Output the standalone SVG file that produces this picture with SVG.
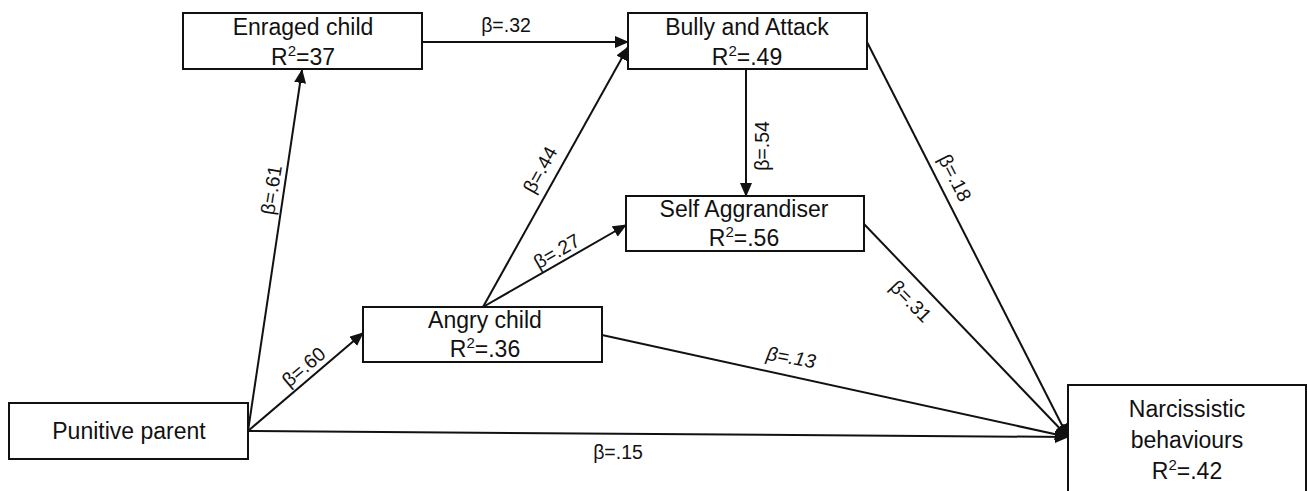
<svg xmlns="http://www.w3.org/2000/svg" width="1307" height="491" viewBox="0 0 1307 491">
<style>
.box{fill:#fff;stroke:#111;stroke-width:2}
.t{font-family:"Liberation Sans",Arial,sans-serif;font-size:23px;fill:#111;text-anchor:middle}
.lbl{font-family:"Liberation Sans",Arial,sans-serif;font-size:19.5px;fill:#111;text-anchor:middle}
.c{stroke:#111;stroke-width:2;fill:none}
.sup{font-size:15px}
</style>
<defs>
<marker id="ah" markerUnits="userSpaceOnUse" markerWidth="14" markerHeight="12" refX="13" refY="6" orient="auto">
<path d="M0,0 L14,6 L0,12 z" fill="#111"/>
</marker>
</defs>
<rect width="1307" height="491" fill="#fff"/>
<g id="connectors">
<line class="c" x1="248" y1="431" x2="302" y2="70" marker-end="url(#ah)"/>
<line class="c" x1="248" y1="431" x2="363" y2="333" marker-end="url(#ah)"/>
<line class="c" x1="248" y1="431" x2="1068" y2="437" marker-end="url(#ah)"/>
<line class="c" x1="422" y1="42" x2="628" y2="42" marker-end="url(#ah)"/>
<line class="c" x1="483" y1="307" x2="628" y2="47" marker-end="url(#ah)"/>
<line class="c" x1="483" y1="307" x2="626" y2="225" marker-end="url(#ah)"/>
<line class="c" x1="746" y1="69" x2="746" y2="196" marker-end="url(#ah)"/>
<line class="c" x1="867" y1="42" x2="1068" y2="437" marker-end="url(#ah)"/>
<line class="c" x1="864" y1="224" x2="1068" y2="437" marker-end="url(#ah)"/>
<line class="c" x1="602" y1="335" x2="1068" y2="437" marker-end="url(#ah)"/>
<text class="lbl" x="506" y="32">β=.32</text>
<text class="lbl" transform="translate(278,191) rotate(-81)">β=.61</text>
<text class="lbl" transform="translate(308,372) rotate(-40)">β=.60</text>
<text class="lbl" transform="translate(546,173) rotate(-61)">β=.44</text>
<text class="lbl" transform="translate(560,257) rotate(-30)">β=.27</text>
<text class="lbl" transform="translate(769,146) rotate(-90)">β=.54</text>
<text class="lbl" transform="translate(949,181) rotate(63)">β=.18</text>
<text class="lbl" transform="translate(906,306) rotate(46)">β=.31</text>
<text class="lbl" font-style="italic" transform="translate(790,364) rotate(10)">β=.13</text>
<text class="lbl" x="618" y="459">β=.15</text>
</g>
<g id="enraged">
<rect class="box" x="183" y="13" width="239" height="56"/>
<text class="t" x="303" y="35">Enraged child</text>
<text class="t" x="303" y="65">R<tspan class="sup" dy="-9">2</tspan><tspan dy="9">=37</tspan></text>
</g>
<g id="bully">
<rect class="box" x="628" y="13" width="239" height="56"/>
<text class="t" x="747" y="35">Bully and Attack</text>
<text class="t" x="747" y="65">R<tspan class="sup" dy="-9">2</tspan><tspan dy="9">=.49</tspan></text>
</g>
<g id="self">
<rect class="box" x="626" y="196" width="238" height="55"/>
<text class="t" x="744" y="217">Self Aggrandiser</text>
<text class="t" x="744" y="246">R<tspan class="sup" dy="-9">2</tspan><tspan dy="9">=.56</tspan></text>
</g>
<g id="angry">
<rect class="box" x="363" y="307" width="239" height="55"/>
<text class="t" x="485" y="328">Angry child</text>
<text class="t" x="485" y="357">R<tspan class="sup" dy="-9">2</tspan><tspan dy="9">=.36</tspan></text>
</g>
<g id="punitive">
<rect class="box" x="9" y="403" width="239" height="56"/>
<text class="t" x="129" y="439">Punitive parent</text>
</g>
<g id="narcissistic">
<rect class="box" x="1068" y="385" width="238" height="130"/>
<text class="t" x="1187" y="417">Narcissistic</text>
<text class="t" x="1187" y="448">behaviours</text>
<text class="t" x="1187" y="479">R<tspan class="sup" dy="-9">2</tspan><tspan dy="9">=.42</tspan></text>
</g>
</svg>
